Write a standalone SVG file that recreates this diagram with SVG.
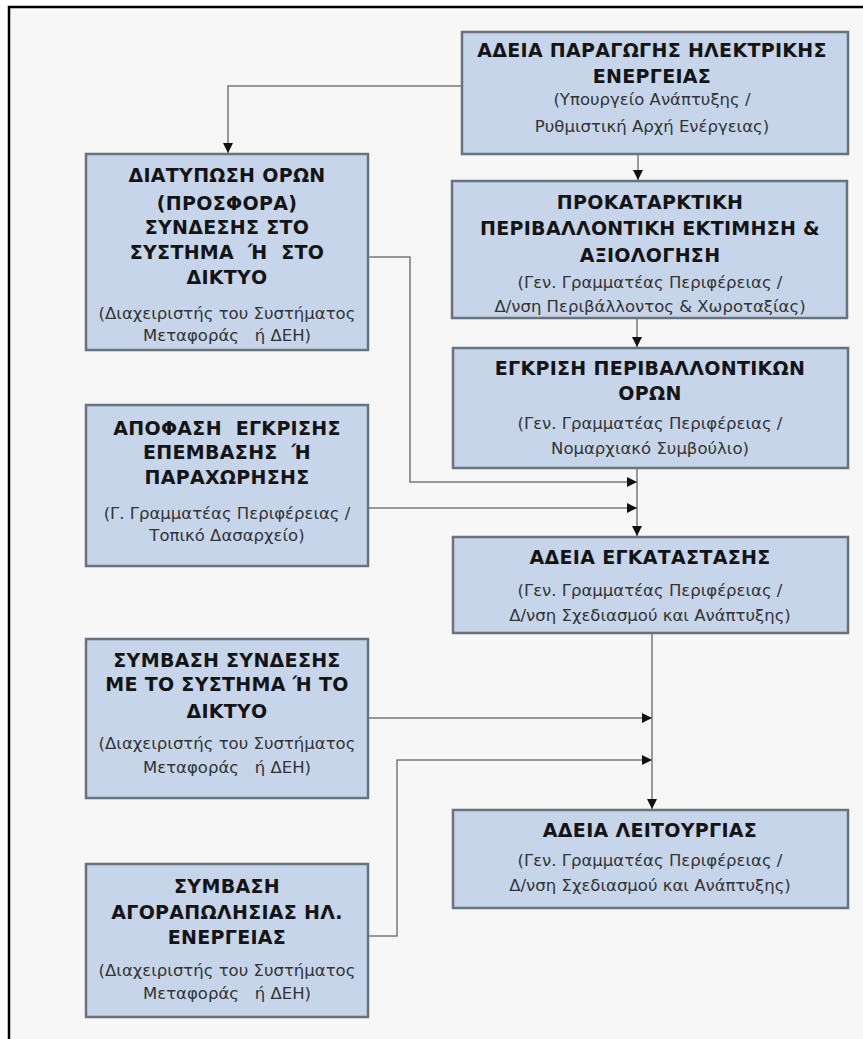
<svg xmlns="http://www.w3.org/2000/svg" width="863" height="1039" viewBox="0 0 863 1039">
<style>
.box{fill:#c6d5ea;stroke:#69737e;stroke-width:2.5}
.t{font-family:"DejaVu Sans",Verdana,sans-serif;font-weight:bold;font-size:19px;letter-spacing:0.3px;fill:#141414;text-anchor:middle;white-space:pre}
.s{font-family:"DejaVu Sans",Verdana,sans-serif;font-size:16.5px;fill:#333;text-anchor:middle;white-space:pre}
.c{fill:none;stroke:#7a7a7a;stroke-width:1.5}
</style>
<defs>
<marker id="ah" markerUnits="userSpaceOnUse" markerWidth="12" markerHeight="12" viewBox="0 0 12 12" refX="11" refY="6" orient="auto">
<path d="M1,1 L11,6 L1,11 Z" fill="#111"/>
</marker>
</defs>
<rect x="0" y="0" width="863" height="1039" fill="#ffffff"/>
<rect x="9" y="7" width="854" height="1032" fill="#f7f7f7"/>
<path d="M9,1039 V7 H863" fill="none" stroke="#000" stroke-width="2.5"/>

<g id="connectors">
<path class="c" d="M462,86 H228 V153" marker-end="url(#ah)"/>
<path class="c" d="M638,154 V180" marker-end="url(#ah)"/>
<path class="c" d="M637,318 V347" marker-end="url(#ah)"/>
<path class="c" d="M637,468 V536" marker-end="url(#ah)"/>
<path class="c" d="M368,257 H410 V482 H637" marker-end="url(#ah)"/>
<path class="c" d="M368,508 H637" marker-end="url(#ah)"/>
<path class="c" d="M652,633 V809" marker-end="url(#ah)"/>
<path class="c" d="M368,718 H652" marker-end="url(#ah)"/>
<path class="c" d="M368,936 H397 V760 H652" marker-end="url(#ah)"/>
</g>

<g id="n_paragogi">
<rect class="box" x="462" y="32" width="386" height="122"/>
<text class="t" x="652" y="57">ΑΔΕΙΑ ΠΑΡΑΓΩΓΗΣ ΗΛΕΚΤΡΙΚΗΣ</text>
<text class="t" x="652" y="83">ΕΝΕΡΓΕΙΑΣ</text>
<text class="s" x="652" y="105">(Υπουργείο Ανάπτυξης /</text>
<text class="s" x="652" y="132">Ρυθμιστική Αρχή Ενέργειας)</text>
</g>

<g id="n_prokatarktiki">
<rect class="box" x="452" y="181" width="395" height="137"/>
<text class="t" x="650" y="209">ΠΡΟΚΑΤΑΡΚΤΙΚΗ</text>
<text class="t" x="650" y="235">ΠΕΡΙΒΑΛΛΟΝΤΙΚΗ ΕΚΤΙΜΗΣΗ &amp;</text>
<text class="t" x="650" y="262">ΑΞΙΟΛΟΓΗΣΗ</text>
<text class="s" x="650" y="288">(Γεν. Γραμματέας Περιφέρειας /</text>
<text class="s" x="650" y="312">Δ/νση Περιβάλλοντος &amp; Χωροταξίας)</text>
</g>

<g id="n_egkrisi">
<rect class="box" x="453" y="348" width="395" height="120"/>
<text class="t" x="650" y="375">ΕΓΚΡΙΣΗ ΠΕΡΙΒΑΛΛΟΝΤΙΚΩΝ</text>
<text class="t" x="650" y="400">ΟΡΩΝ</text>
<text class="s" x="650" y="429">(Γεν. Γραμματέας Περιφέρειας /</text>
<text class="s" x="650" y="454">Νομαρχιακό Συμβούλιο)</text>
</g>

<g id="n_egkatastasi">
<rect class="box" x="453" y="537" width="395" height="96"/>
<text class="t" x="650" y="564">ΑΔΕΙΑ ΕΓΚΑΤΑΣΤΑΣΗΣ</text>
<text class="s" x="650" y="596">(Γεν. Γραμματέας Περιφέρειας /</text>
<text class="s" x="650" y="621">Δ/νση Σχεδιασμού και Ανάπτυξης)</text>
</g>

<g id="n_leitourgia">
<rect class="box" x="453" y="810" width="395" height="98"/>
<text class="t" x="650" y="837">ΑΔΕΙΑ ΛΕΙΤΟΥΡΓΙΑΣ</text>
<text class="s" x="650" y="866">(Γεν. Γραμματέας Περιφέρειας /</text>
<text class="s" x="650" y="891">Δ/νση Σχεδιασμού και Ανάπτυξης)</text>
</g>

<g id="n_diatyposi">
<rect class="box" x="86" y="154" width="282" height="196"/>
<text class="t" x="227" y="182">ΔΙΑΤΥΠΩΣΗ ΟΡΩΝ</text>
<text class="t" x="227" y="210">(ΠΡΟΣΦΟΡΑ)</text>
<text class="t" x="227" y="234">ΣΥΝΔΕΣΗΣ ΣΤΟ</text>
<text class="t" x="227" y="259">ΣΥΣΤΗΜΑ  Ή  ΣΤΟ</text>
<text class="t" x="227" y="284">ΔΙΚΤΥΟ</text>
<text class="s" x="227" y="319">(Διαχειριστής του Συστήματος</text>
<text class="s" x="227" y="341">Μεταφοράς   ή ΔΕΗ)</text>
</g>

<g id="n_apofasi">
<rect class="box" x="86" y="405" width="282" height="161"/>
<text class="t" x="227" y="435">ΑΠΟΦΑΣΗ  ΕΓΚΡΙΣΗΣ</text>
<text class="t" x="227" y="459">ΕΠΕΜΒΑΣΗΣ  Ή</text>
<text class="t" x="227" y="484">ΠΑΡΑΧΩΡΗΣΗΣ</text>
<text class="s" x="227" y="519">(Γ. Γραμματέας Περιφέρειας /</text>
<text class="s" x="227" y="541">Τοπικό Δασαρχείο)</text>
</g>

<g id="n_symvasi_syndesis">
<rect class="box" x="86" y="639" width="282" height="159"/>
<text class="t" x="227" y="667">ΣΥΜΒΑΣΗ ΣΥΝΔΕΣΗΣ</text>
<text class="t" x="227" y="691">ΜΕ ΤΟ ΣΥΣΤΗΜΑ Ή ΤΟ</text>
<text class="t" x="227" y="718">ΔΙΚΤΥΟ</text>
<text class="s" x="227" y="749">(Διαχειριστής του Συστήματος</text>
<text class="s" x="227" y="773">Μεταφοράς   ή ΔΕΗ)</text>
</g>

<g id="n_symvasi_agorapolisias">
<rect class="box" x="86" y="864" width="282" height="153"/>
<text class="t" x="227" y="893">ΣΥΜΒΑΣΗ</text>
<text class="t" x="227" y="919">ΑΓΟΡΑΠΩΛΗΣΙΑΣ ΗΛ.</text>
<text class="t" x="227" y="944">ΕΝΕΡΓΕΙΑΣ</text>
<text class="s" x="227" y="976">(Διαχειριστής του Συστήματος</text>
<text class="s" x="227" y="999">Μεταφοράς   ή ΔΕΗ)</text>
</g>
</svg>
